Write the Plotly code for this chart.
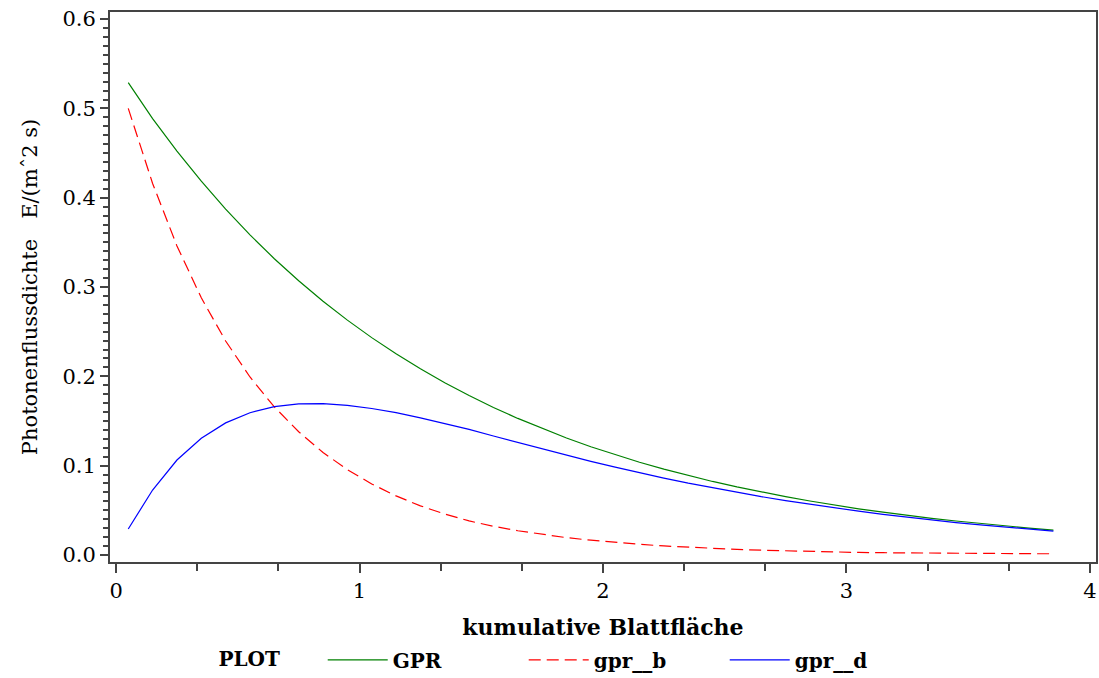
import plotly.graph_objects as go

# cumulative leaf area
x_vals = [0.05, 0.15, 0.25, 0.35, 0.45, 0.55, 0.65, 0.75, 0.85, 0.95,
          1.05, 1.15, 1.25, 1.35, 1.45, 1.55, 1.65, 1.75, 1.85, 1.95,
          2.05, 2.15, 2.25, 2.35, 2.45, 2.55, 2.65, 2.75, 2.85, 2.95,
          3.05, 3.15, 3.25, 3.35, 3.45, 3.55, 3.65, 3.75, 3.85]

gpr = [0.5290, 0.4886, 0.4522, 0.4185, 0.3873, 0.3584, 0.3317, 0.3070, 0.2841, 0.2629,
       0.2433, 0.2252, 0.2084, 0.1928, 0.1785, 0.1651, 0.1528, 0.1414, 0.1309, 0.1211,
       0.1121, 0.1037, 0.0960, 0.0888, 0.0822, 0.0761, 0.0704, 0.0652, 0.0603, 0.0558,
       0.0516, 0.0478, 0.0442, 0.0409, 0.0379, 0.0351, 0.0324, 0.0300, 0.0278]

gpr_b = [0.5000, 0.4160, 0.3460, 0.2879, 0.2395, 0.1992, 0.1657, 0.1379, 0.1147, 0.0954,
         0.0794, 0.0660, 0.0549, 0.0457, 0.0380, 0.0320, 0.0270, 0.0228, 0.0193, 0.0164,
         0.0139, 0.0118, 0.0100, 0.0085, 0.0072, 0.0061, 0.0052, 0.0044, 0.0037, 0.0032,
         0.0027, 0.0024, 0.0021, 0.0019, 0.0017, 0.0015, 0.0014, 0.0013, 0.0012]

gpr_d = [0.0290, 0.0726, 0.1062, 0.1306, 0.1478, 0.1592, 0.1660, 0.1691, 0.1694, 0.1675,
         0.1639, 0.1592, 0.1535, 0.1471, 0.1405, 0.1331, 0.1258, 0.1186, 0.1116, 0.1047,
         0.0982, 0.0919, 0.0860, 0.0803, 0.0750, 0.0700, 0.0652, 0.0608, 0.0566, 0.0526,
         0.0489, 0.0454, 0.0421, 0.0390, 0.0362, 0.0336, 0.0310, 0.0287, 0.0266]

x_ticks = [0, 1, 2, 3, 4]
x_tick_labels = ["0", "1", "2", "3", "4"]
y_ticks = [0.0, 0.1, 0.2, 0.3, 0.4, 0.5, 0.6]
y_tick_labels = ["0.0", "0.1", "0.2", "0.3", "0.4", "0.5", "0.6"]

FONT = "DejaVu Serif"
AXIS_COLOR = "#444444"

fig = go.Figure()
fig.add_trace(go.Scatter(x=x_vals, y=gpr, mode="lines", name="GPR",
                         line=dict(color="#008000", width=1.2)))
fig.add_trace(go.Scatter(x=x_vals, y=gpr_b, mode="lines", name="gpr__b",
                         line=dict(color="#ff0000", width=1.2, dash="12px,6px")))
fig.add_trace(go.Scatter(x=x_vals, y=gpr_d, mode="lines", name="gpr__d",
                         line=dict(color="#0000ff", width=1.2)))

fig.update_layout(
    width=1099, height=678,
    margin=dict(l=110, r=3, t=12, b=116, autoexpand=False),
    plot_bgcolor="white", paper_bgcolor="white",
    font=dict(family=FONT, size=20, color="black"),
    showlegend=True,
    legend=dict(
        orientation="h",
        x=0.108, xanchor="left",
        y=-0.178, yanchor="middle",
        title=dict(text="PLOT\u00a0\u00a0\u00a0\u00a0\u00a0",
                   side="left", font=dict(family=FONT, size=20, weight="bold")),
        font=dict(family=FONT, size=20, weight="bold"),
        entrywidth=126, entrywidthmode="pixels",
        itemwidth=60,
        bgcolor="rgba(0,0,0,0)",
    ),
    xaxis=dict(
        range=[-0.025, 4.025],
        tickmode="array", tickvals=x_ticks, ticktext=x_tick_labels,
        ticks="outside", ticklen=9, tickwidth=1.5, tickcolor=AXIS_COLOR,
        minor=dict(tickmode="linear", tick0=0, dtick=1/3, ticks="outside",
                   ticklen=7, tickwidth=1.5, tickcolor=AXIS_COLOR),
        showline=True, linecolor=AXIS_COLOR, linewidth=2, mirror=True,
        showgrid=False, zeroline=False,
        title=dict(text="kumulative Blattfläche", standoff=17,
                   font=dict(family=FONT, size=22, weight="bold")),
        tickfont=dict(family=FONT, size=21),
    ),
    yaxis=dict(
        range=[-0.008, 0.608],
        tickmode="array", tickvals=y_ticks, ticktext=y_tick_labels,
        ticks="outside", ticklen=8, tickwidth=1.5, tickcolor=AXIS_COLOR,
        minor=dict(tickmode="linear", tick0=0, dtick=0.01, ticks="outside",
                   ticklen=5, tickwidth=1.5, tickcolor=AXIS_COLOR),
        showline=True, linecolor=AXIS_COLOR, linewidth=2, mirror=True,
        showgrid=False, zeroline=False,
        title=dict(text="Photonenflussdichte\u00a0\u00a0\u00a0E/(m\u02c62\u00a0s)", standoff=19,
                   font=dict(family=FONT, size=21)),
        tickfont=dict(family=FONT, size=21),
    ),
)

fig.write_html("out.html")
